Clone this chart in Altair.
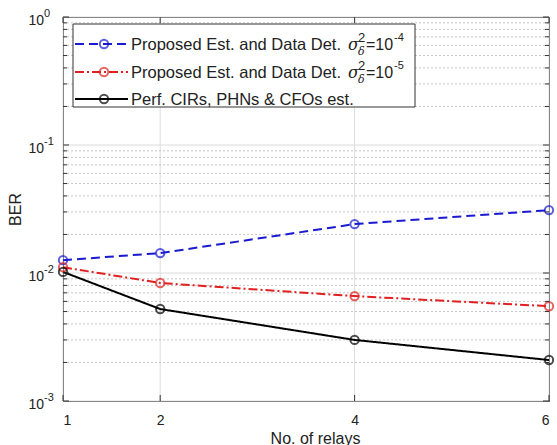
import altair as alt
import pandas as pd

relays = [1, 2, 4, 6]
ber_sig4 = [0.0126, 0.0143, 0.0241, 0.0310]
ber_sig5 = [0.0111, 0.00835, 0.0066, 0.0055]
ber_perf = [0.0102, 0.00523, 0.0030, 0.00209]

series_names = ["sig4", "sig5", "perf"]
series_colors = ["#1a1ad0", "#e02020", "#000000"]
series_dash = [[9, 5], [9, 3, 2, 3], [1, 0]]

legend_text = ["Proposed Est. and Data Det.", "Proposed Est. and Data Det.", "Perf. CIRs, PHNs & CFOs est."]
legend_exp = ["-4", "-5"]

decades = [1e-3, 1e-2, 1e-1, 1.0]
decade_exp = ["-3", "-2", "-1", "0"]
minor = [m * d for d in [1e-3, 1e-2, 1e-1] for m in range(2, 10)]

W, H = 486, 384
FONT = "Liberation Sans"
TXT = "#222222"

rows = []
for name, vals in zip(series_names, [ber_sig4, ber_sig5, ber_perf]):
    for r, v in zip(relays, vals):
        rows.append({"series": name, "relays": r, "ber": v})
df = pd.DataFrame(rows)

xs = alt.Scale(domain=[1, 6], nice=False, zero=False)
ys = alt.Scale(type="log", domain=[1e-3, 1], nice=False)

dec_df = pd.DataFrame({"y": decades, "e": decade_exp})
minor_df = pd.DataFrame({"y": minor})
xt_df = pd.DataFrame({"x": relays})

# major grid (light solid)
hgrid = alt.Chart(dec_df).mark_rule(color="#dcdcdc", strokeWidth=1).encode(
    y=alt.Y("y:Q", scale=ys), x=alt.value(0), x2=alt.value(W))
vgrid = alt.Chart(xt_df).mark_rule(color="#dcdcdc", strokeWidth=1).encode(
    x=alt.X("x:Q", scale=xs), y=alt.value(0), y2=alt.value(H))
mgrid = alt.Chart(minor_df).mark_rule(color="#b8b8b8", strokeWidth=0.8, strokeDash=[2, 2]).encode(
    y=alt.Y("y:Q", scale=ys), x=alt.value(0), x2=alt.value(W))

# ticks inside
tl_major = alt.Chart(dec_df).mark_rule(color="#333333").encode(
    y=alt.Y("y:Q", scale=ys), x=alt.value(0), x2=alt.value(6))
tr_major = alt.Chart(dec_df).mark_rule(color="#333333").encode(
    y=alt.Y("y:Q", scale=ys), x=alt.value(W - 6), x2=alt.value(W))
tl_minor = alt.Chart(minor_df).mark_rule(color="#333333").encode(
    y=alt.Y("y:Q", scale=ys), x=alt.value(0), x2=alt.value(4))
tr_minor = alt.Chart(minor_df).mark_rule(color="#333333").encode(
    y=alt.Y("y:Q", scale=ys), x=alt.value(W - 4), x2=alt.value(W))
tb = alt.Chart(xt_df).mark_rule(color="#333333").encode(
    x=alt.X("x:Q", scale=xs), y=alt.value(H - 6), y2=alt.value(H))
tt = alt.Chart(xt_df).mark_rule(color="#333333").encode(
    x=alt.X("x:Q", scale=xs), y=alt.value(0), y2=alt.value(6))

# y labels 10^e
ylab = alt.Chart(dec_df).mark_text(align="right", baseline="middle", font=FONT, fontSize=14,
                                   color=TXT, dy=4).encode(
    y=alt.Y("y:Q", scale=ys), x=alt.value(-19), text=alt.value("10"))
yexp = alt.Chart(dec_df).mark_text(align="left", baseline="middle", font=FONT, fontSize=11,
                                   color=TXT, dy=-3).encode(
    y=alt.Y("y:Q", scale=ys), x=alt.value(-19), text="e:N")

color_scale = alt.Scale(domain=series_names, range=series_colors)
dash_scale = alt.Scale(domain=series_names, range=series_dash)

lines = alt.Chart(df).mark_line(strokeWidth=2).encode(
    x=alt.X("relays:Q", scale=xs,
            axis=alt.Axis(values=relays, format="d", title="No. of relays", grid=False, ticks=False,
                          domain=False, labelFont=FONT, labelFontSize=14, labelColor=TXT,
                          labelPadding=12, titleFont=FONT, titleFontSize=16,
                          titleFontWeight="normal", titleColor=TXT,
                          titleBaseline="alphabetic", titleY=42, titleX=252)),
    y=alt.Y("ber:Q", scale=ys,
            axis=alt.Axis(values=decades, labels=False, ticks=False, grid=False, domain=False,
                          title="BER", titleFont=FONT, titleFontSize=16,
                          titleFontWeight="normal", titleColor=TXT, titlePadding=40)),
    color=alt.Color("series:N", scale=color_scale, legend=None),
    strokeDash=alt.StrokeDash("series:N", scale=dash_scale, legend=None),
)
points = alt.Chart(df).mark_point(shape="circle", filled=False, size=70, strokeWidth=2).encode(
    x=alt.X("relays:Q", scale=xs),
    y=alt.Y("ber:Q", scale=ys),
    color=alt.Color("series:N", scale=color_scale, legend=None),
)

# legend
one = pd.DataFrame({"a": [0]})
leg_layers = [alt.Chart(one).mark_rect(fill="white", stroke="#333333", strokeWidth=1).encode(
    x=alt.value(10), x2=alt.value(352), y=alt.value(7), y2=alt.value(90))]
row_y = [27, 55, 82]
for i in range(3):
    yy = row_y[i]
    leg_layers.append(alt.Chart(one).mark_rule(color=series_colors[i], strokeWidth=2,
                                               strokeDash=series_dash[i]).encode(
        x=alt.value(12), x2=alt.value(65), y=alt.value(yy)))
    leg_layers.append(alt.Chart(one).mark_point(shape="circle", filled=False, size=70, strokeWidth=2,
                                                color=series_colors[i]).encode(
        x=alt.value(41), y=alt.value(yy)))
    leg_layers.append(alt.Chart(one).mark_text(align="left", baseline="middle", font=FONT,
                                               fontSize=16.5, color=TXT).encode(
        x=alt.value(68), y=alt.value(yy + 1), text=alt.value(legend_text[i])))
    if i < 2:
        leg_layers.append(alt.Chart(one).mark_text(align="left", baseline="middle", font="DejaVu Serif",
                                                   fontSize=16, fontStyle="italic", color=TXT).encode(
            x=alt.value(285), y=alt.value(yy + 1), text=alt.value("σ")))
        leg_layers.append(alt.Chart(one).mark_text(align="left", baseline="middle", font=FONT,
                                                   fontSize=13, color=TXT).encode(
            x=alt.value(295), y=alt.value(yy - 6), text=alt.value("2")))
        leg_layers.append(alt.Chart(one).mark_text(align="left", baseline="middle", font="DejaVu Serif",
                                                   fontSize=11, fontStyle="italic", color=TXT).encode(
            x=alt.value(295), y=alt.value(yy + 8), text=alt.value("δ")))
        leg_layers.append(alt.Chart(one).mark_text(align="left", baseline="middle", font=FONT,
                                                   fontSize=16, color=TXT).encode(
            x=alt.value(303), y=alt.value(yy + 1), text=alt.value("=10")))
        leg_layers.append(alt.Chart(one).mark_text(align="left", baseline="middle", font=FONT,
                                                   fontSize=11, color=TXT).encode(
            x=alt.value(331), y=alt.value(yy - 6), text=alt.value(legend_exp[i])))

chart = alt.layer(
    hgrid, vgrid, mgrid, lines, points,
    tl_major, tr_major, tl_minor, tr_minor, tb, tt,
    ylab, yexp, *leg_layers
).properties(
    width=W, height=H,
    padding={"left": 63, "top": 17, "right": 8, "bottom": 44},
    autosize="none",
    background="white",
).configure_view(stroke="#333333", strokeWidth=1)

chart.save("out.html", embed_options={"renderer": "svg", "actions": False})
